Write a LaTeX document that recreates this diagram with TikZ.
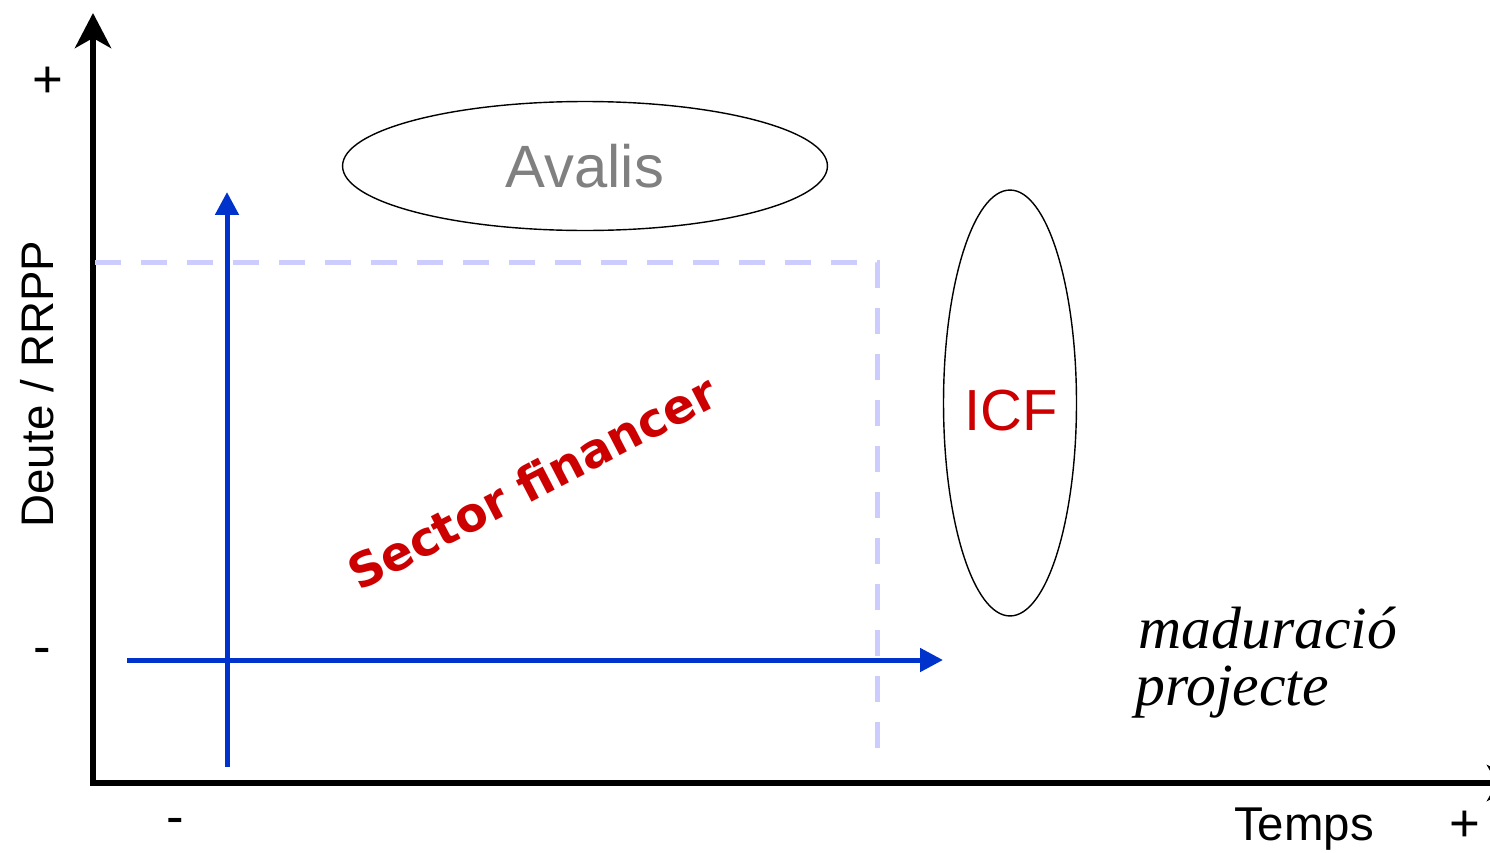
\documentclass[tikz,border=0pt]{standalone}
\usepackage{fontspec}
\setmainfont{Liberation Sans}
\newfontfamily\comicfont{DejaVu Sans}
\newfontfamily\bookfont{Liberation Serif}
\usetikzlibrary{arrows.meta,shapes.geometric}
\definecolor{pathblue}{RGB}{0,51,204}
\definecolor{dashlilac}{RGB}{204,204,255}
\definecolor{labelred}{RGB}{204,0,0}
\definecolor{labelgrey}{RGB}{128,128,128}

\begin{document}
\begin{tikzpicture}[x=0.02cm,y=-0.02cm,
    axisline/.style={line width=0.13cm,{Stealth[length=0.7cm,width=0.72cm,inset=0.2cm]}-{Stealth[length=0.7cm,width=0.72cm,inset=0.2cm]}},
    blueline/.style={pathblue,line width=0.1cm,-{Triangle[length=0.46cm,width=0.46cm]}},
    limitline/.style={dashlilac,line width=0.1cm,dash pattern=on 0.52cm off 0.4cm},
    axislabel/.style={font=\fontsize{26}{30}\selectfont,inner sep=0pt},
    signlabel/.style={font=\fontsize{30}{34}\selectfont,inner sep=0pt},
    oval/.style={draw,ellipse,line width=0.8pt,inner sep=0pt}]
        \useasboundingbox (0,0) rectangle (1490,852);
        \coordinate (O) at (93,783);
        \coordinate (Ytop) at (93,13);
        \coordinate (Xend) at (1522,783);
        \draw[axisline] (Ytop) -- (O) -- (Xend);
        \coordinate (D) at (95,262);
        \coordinate (E) at (877,262);
        \coordinate (F) at (877,750);
        \draw[limitline] (D) -- (E) -- (F);
        \coordinate (V0) at (227,767);
        \coordinate (V1) at (227,192);
        \draw[blueline] (V0) -- (V1);
        \coordinate (H0) at (127,660);
        \coordinate (H1) at (943,660);
        \draw[blueline] (H0) -- (H1);
        \node[oval,minimum width=9.7cm,minimum height=2.58cm,text=labelgrey,font=\fontsize{34}{40}\selectfont] (avalis) at (585,166) {Avalis};
        \node[oval,minimum width=2.66cm,minimum height=8.52cm] (icf) at (1010,403) {};
        \node[labelred,inner sep=0pt,font=\fontsize{33}{40}\selectfont] (icftext) at (1011,411) {ICF};
        \node[labelred,rotate=27.5,inner sep=0pt,font=\comicfont\bfseries\fontsize{27}{32}\selectfont] (sector) at (532,482) {Sector financer};
        \node[anchor=base west,inner sep=0pt,font=\bookfont\itshape\fontsize{34}{40}\selectfont] (madur) at (1138,648) {maduració};
        \node[anchor=base west,inner sep=0pt,font=\bookfont\itshape\fontsize{34}{40}\selectfont] (proj) at (1135,705) {projecte};
        \node[axislabel,rotate=90] (yname) at (37,384) {Deute / RRPP};
        \node[signlabel] (yplus) at (48,82) {+};
        \node[signlabel] (yminus) at (42,656) {-};
        \node[signlabel] (xminus) at (175,826) {-};
        \node[axislabel,font=\fontsize{27}{30}\selectfont] (xname) at (1304,829) {Temps};
        \node[signlabel] (xplus) at (1465,826) {+};
    \end{tikzpicture}
\end{document}
